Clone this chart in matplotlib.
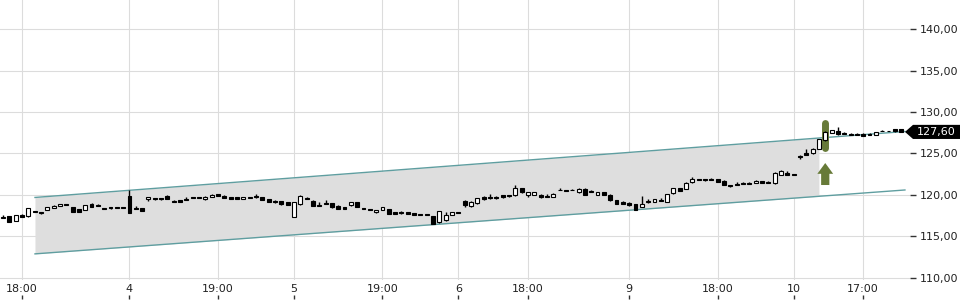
import matplotlib
matplotlib.use("Agg")
from matplotlib import pyplot as plt
from matplotlib import transforms
from matplotlib.patches import FancyArrow, Polygon
from matplotlib.ticker import FuncFormatter
import numpy as np

# candles, one row per bar: open, high, low, close
ohlc = [
    (117.3, 117.55, 117.25, 117.35), (117.45, 117.5, 116.7, 116.75), (116.9, 117.6, 116.85, 117.6),
    (117.6, 117.75, 117.3, 117.35), (117.45, 118.45, 117.4, 118.4), (118.0, 118.05, 117.95, 118.0),
    (117.9, 117.9, 117.7, 117.85), (118.2, 118.6, 118.15, 118.55), (118.45, 118.75, 118.4, 118.7),
    (118.7, 118.95, 118.65, 118.9), (118.9, 118.95, 118.85, 118.9), (118.55, 118.6, 117.9, 117.95),
    (118.3, 118.35, 117.9, 117.95), (118.2, 118.85, 118.15, 118.8), (118.9, 119.0, 118.5, 118.55),
    (118.75, 118.9, 118.7, 118.7), (118.4, 118.45, 118.25, 118.35), (118.5, 118.55, 118.35, 118.45),
    (118.55, 118.6, 118.45, 118.45), (118.5, 118.55, 118.45, 118.5), (119.9, 120.6, 117.8, 117.85),
    (118.4, 118.7, 118.35, 118.35), (118.4, 118.45, 118.05, 118.1), (119.55, 119.8, 119.3, 119.8),
    (119.6, 119.65, 119.35, 119.6), (119.6, 119.65, 119.45, 119.5), (119.9, 119.95, 119.5, 119.5),
    (119.2, 119.35, 119.15, 119.15), (119.4, 119.45, 119.2, 119.2), (119.5, 119.75, 119.45, 119.5),
    (119.7, 119.75, 119.65, 119.7), (119.7, 119.75, 119.65, 119.7), (119.5, 119.85, 119.45, 119.8),
    (119.8, 120.1, 119.75, 120.05), (120.1, 120.15, 119.85, 119.9), (119.9, 119.95, 119.6, 119.6),
    (119.75, 119.8, 119.5, 119.55), (119.75, 119.8, 119.5, 119.55), (119.55, 119.8, 119.5, 119.75),
    (119.65, 119.8, 119.6, 119.7), (119.85, 120.1, 119.65, 119.7), (119.7, 119.75, 119.35, 119.4),
    (119.5, 119.55, 119.2, 119.2), (119.3, 119.35, 119.05, 119.1), (119.25, 119.3, 118.85, 118.9),
    (119.1, 119.15, 118.75, 118.8), (117.4, 119.15, 117.35, 119.1), (118.9, 119.95, 118.85, 119.9),
    (119.6, 119.75, 119.55, 119.6), (119.3, 119.35, 118.65, 118.7), (118.7, 119.1, 118.65, 118.7),
    (119.0, 119.35, 118.95, 119.0), (119.0, 119.05, 118.45, 118.6), (118.7, 118.75, 118.3, 118.35),
    (118.55, 118.6, 118.3, 118.35), (118.75, 119.15, 118.7, 119.15), (119.1, 119.15, 118.55, 118.6),
    (118.35, 118.4, 118.3, 118.35), (118.2, 118.3, 118.15, 118.2), (117.9, 118.2, 117.85, 118.15),
    (118.2, 118.6, 118.15, 118.5), (118.3, 118.35, 117.7, 117.75), (117.95, 118.0, 117.7, 117.75),
    (118.0, 118.1, 117.75, 117.8), (117.9, 117.95, 117.7, 117.75), (117.8, 117.85, 117.55, 117.6),
    (117.6, 117.65, 117.55, 117.6), (117.6, 117.65, 117.55, 117.6), (117.45, 117.5, 116.5, 116.55),
    (116.7, 118.05, 116.65, 118.05), (116.95, 117.9, 116.9, 117.55), (117.6, 118.0, 117.55, 117.95),
    (117.9, 117.95, 117.85, 117.9), (119.3, 119.35, 118.6, 118.8), (118.7, 119.3, 118.55, 119.2),
    (119.0, 119.65, 118.95, 119.6), (119.7, 119.9, 119.45, 119.5), (119.75, 120.1, 119.55, 119.6),
    (119.7, 119.9, 119.55, 119.6), (119.95, 120.0, 119.65, 119.7), (120.0, 120.05, 119.8, 119.85),
    (119.95, 121.2, 119.9, 120.8), (120.8, 120.85, 120.25, 120.3), (120.0, 120.3, 119.7, 120.3),
    (120.05, 120.35, 120.0, 120.3), (120.05, 120.1, 119.65, 119.7), (119.85, 120.15, 119.8, 119.8),
    (119.8, 120.2, 119.75, 120.15), (120.65, 120.8, 120.55, 120.55), (120.55, 120.6, 120.5, 120.55),
    (120.6, 120.75, 120.55, 120.6), (120.3, 120.8, 120.25, 120.75), (120.75, 120.8, 120.0, 120.05),
    (120.4, 120.55, 120.35, 120.4), (120.05, 120.4, 120.0, 120.35), (120.35, 120.4, 120.0, 120.05),
    (120.05, 120.1, 119.3, 119.35), (119.4, 119.45, 118.9, 118.95), (119.2, 119.25, 118.9, 118.95),
    (119.0, 119.15, 118.7, 118.75), (118.9, 118.95, 118.15, 118.2), (118.6, 119.9, 118.55, 118.95),
    (119.3, 119.5, 119.05, 119.1), (119.2, 119.55, 119.15, 119.5), (119.45, 119.6, 119.25, 119.3),
    (119.2, 120.15, 119.15, 120.1), (120.2, 120.85, 120.15, 120.8), (120.8, 120.85, 120.45, 120.5),
    (120.75, 121.55, 120.7, 121.5), (121.55, 122.2, 121.5, 121.9), (121.85, 121.9, 121.8, 121.85),
    (121.9, 121.95, 121.7, 121.75), (121.95, 122.0, 121.75, 121.8), (121.9, 121.95, 121.55, 121.6),
    (121.7, 121.75, 121.15, 121.2), (121.2, 121.25, 121.0, 121.05), (121.3, 121.55, 121.25, 121.3),
    (121.5, 121.55, 121.3, 121.35), (121.5, 121.55, 121.3, 121.35), (121.45, 121.75, 121.4, 121.7),
    (121.65, 121.7, 121.4, 121.45), (121.5, 121.65, 121.45, 121.5), (121.4, 122.75, 121.35, 122.7),
    (122.4, 123.0, 122.35, 122.85), (122.7, 122.85, 122.35, 122.45), (122.45, 122.5, 122.4, 122.45),
    (124.75, 124.8, 124.3, 124.55), (125.05, 125.6, 124.8, 124.85), (125.0, 125.65, 124.95, 125.6),
    (125.6, 126.7, 125.55, 126.7), (126.6, 127.65, 126.55, 127.6), (127.5, 127.85, 127.45, 127.85),
    (127.75, 128.2, 127.25, 127.3), (127.45, 127.6, 127.3, 127.45), (127.3, 127.45, 127.25, 127.3),
    (127.3, 127.45, 127.25, 127.3), (127.4, 127.45, 127.1, 127.15), (127.3, 127.45, 127.25, 127.3),
    (127.25, 127.6, 127.2, 127.55), (127.7, 127.8, 127.65, 127.7), (127.7, 127.75, 127.65, 127.7),
    (127.9, 128.0, 127.6, 127.65), (127.9, 128.0, 127.6, 127.6),
]

xtick_pos = [3, 20, 34, 46, 60, 72, 83, 99, 113, 125, 136]
xtick_labels = ["18:00", "4", "19:00", "5", "19:00", "6", "18:00", "9", "18:00", "10", "17:00"]
yticks = [110, 115, 120, 125, 130, 135, 140]

# trend channel
chan_x = [5.06, 142.6]
chan_upper = [119.7, 127.65]
chan_lower = [112.9, 120.6]
shade_end = 129.0

# signal
signal_bar = 130
arrow_from, arrow_to = 121.2, 123.85
marker_lo, marker_hi = 125.2, 129.15

last_price = 127.60

o = np.array([r[0] for r in ohlc])
h = np.array([r[1] for r in ohlc])
l = np.array([r[2] for r in ohlc])
c = np.array([r[3] for r in ohlc])
x = np.arange(len(ohlc))

fig = plt.figure(figsize=(9.6, 3), dpi=100)
ax = fig.add_axes([0, 20 / 300, 910 / 960, 280 / 300])

ax.set_xlim(-0.47, 143.4)
ax.set_ylim(109.75, 143.5)

# channel
sx = np.linspace(chan_x[0], shade_end, 50)
up_s = np.interp(sx, chan_x, chan_upper)
lo_s = np.interp(sx, chan_x, chan_lower)
ax.fill_between(sx, lo_s, up_s, color="#dedede", zorder=1, lw=0)
ax.plot(chan_x, chan_upper, color="#5f9ea0", lw=1, zorder=2)
ax.plot(chan_x, chan_lower, color="#5f9ea0", lw=1, zorder=2)

green = "#677a38"
ax.plot([signal_bar, signal_bar], [marker_lo + 0.42, marker_hi - 0.42], color=green,
        lw=5.0, solid_capstyle="round", zorder=3)
ax.add_patch(FancyArrow(signal_bar, arrow_from, 0, arrow_to - arrow_from, width=1.3,
                        head_width=2.5, head_length=1.3, length_includes_head=True,
                        color=green, zorder=3, lw=0))

# candles
ax.vlines(x, l, h, color="black", lw=1, zorder=4)
body = c - o
small = np.abs(body) < 0.08
bottom = np.where(small, (o + c) / 2 - 0.05, o)
height = np.where(small, 0.1, body)
fill = np.where(c > o, "white", "black")
ax.bar(x, height, bottom=bottom, width=0.62, color=fill, edgecolor="black", lw=0.8, zorder=5)

# axes styling
for s in ax.spines.values():
    s.set_visible(False)
ax.set_xticks(xtick_pos)
ax.set_xticklabels(xtick_labels)
ax.set_yticks(yticks)
ax.yaxis.set_major_formatter(FuncFormatter(lambda v, _: f"{v:.2f}".replace(".", ",")))
ax.yaxis.tick_right()
ax.tick_params(axis="y", direction="out", length=4, width=1, color="#333333", pad=3,
               labelsize=8, labelcolor="#222222")
ax.tick_params(axis="x", length=0, pad=3, labelsize=8, labelcolor="#222222")
ax.grid(True, color="#dcdcdc", lw=0.8, zorder=0)
ax.set_axisbelow(True)

# small tick marks under the date labels
trans = transforms.blended_transform_factory(ax.transData, ax.transAxes)
ax.plot(xtick_pos, [-0.061] * len(xtick_pos), transform=trans, ls="none", marker="|",
        ms=3, color="#333333", clip_on=False)

# last price tag: arrow-shaped black box on the right axis
ftrans = transforms.blended_transform_factory(fig.transFigure, ax.transData)
hh = 0.85
tag = Polygon([(905 / 960, last_price), (913 / 960, last_price + hh), (1.0, last_price + hh),
               (1.0, last_price - hh), (913 / 960, last_price - hh)], closed=True,
              transform=ftrans, fc="black", ec="none", clip_on=False, zorder=10)
fig.add_artist(tag)
fig.text(917 / 960, last_price, f"{last_price:.2f}".replace(".", ","), transform=ftrans,
         ha="left", va="center", color="white", fontsize=8, zorder=11)

fig.savefig("out.png", dpi=100)
